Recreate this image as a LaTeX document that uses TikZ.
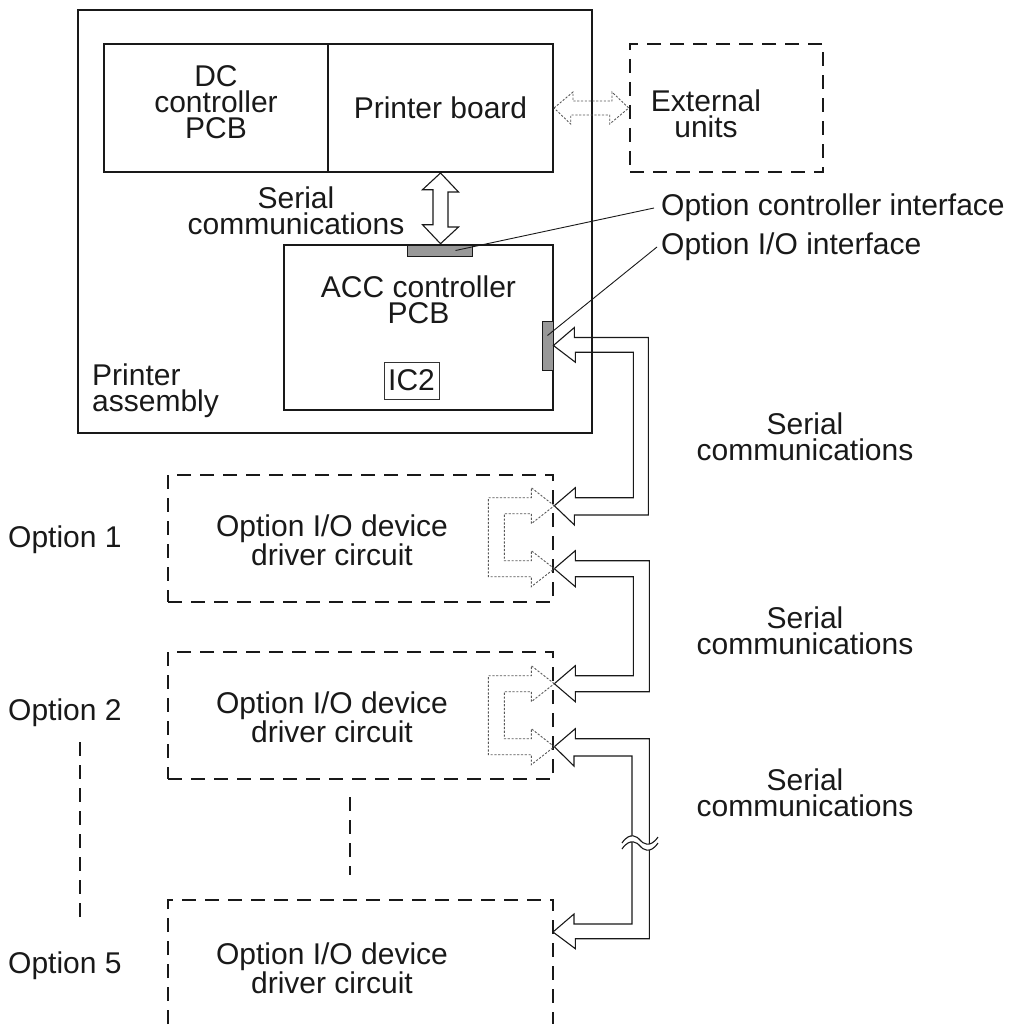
\documentclass[tikz,border=0pt]{standalone}
\usepackage{fontspec}
\setmainfont{Liberation Sans}
\usetikzlibrary{positioning,calc}

\begin{document}
\begin{tikzpicture}[x=1pt,y=-1pt,font=\fontsize{30}{26}\selectfont,color=black!90]
\tikzstyle{frame} = [rectangle, draw, line width=2.6pt, inner sep=0pt]
\tikzstyle{board} = [rectangle, draw, line width=2pt, inner sep=0pt, align=center]
\tikzstyle{optbox} = [rectangle, draw, line width=2.6pt, dash pattern=on 14pt off 9pt, inner sep=0pt]
\tikzstyle{port} = [rectangle, draw, line width=0.8pt, fill=black!40, inner sep=0pt]
\tikzstyle{txt} = [align=center, inner sep=0pt]
\tikzstyle{hollow} = [draw, line width=1.1pt, line join=miter]
\tikzstyle{ghost} = [draw=black!65, line width=0.9pt, dash pattern=on 2.2pt off 1.6pt]
\tikzstyle{leader} = [draw, line width=0.9pt]
\useasboundingbox (0,0) rectangle (1026,1027);

% printer assembly
\node (printer) [frame, minimum width=514pt, minimum height=423pt] at (335,221.5) {};
\node (dcpcb) [board, minimum width=224pt, minimum height=128pt] at (216,108) {};
\node (dctext) [txt] at (216,102) {DC\\controller\\PCB};
\node (board) [board, minimum width=225pt, minimum height=128pt] at (440.5,108) {Printer board};
\node (acc) [frame, minimum width=269pt, minimum height=165pt] at (418.5,327.5) {};
\node (acctext) [txt] at (418.5,300) {ACC controller\\PCB};
\node (ic2) [rectangle, draw=black!80, line width=0.8pt, minimum width=55pt, minimum height=37pt, inner sep=0pt] at (411.5,380.5) {IC2};
\node (serial) [txt] at (296,211) {Serial\\communications};
\node (assembly) [txt, align=left, anchor=west] at (92,391) {Printer\\assembly};

% external units
\node (ext) [optbox, minimum width=193pt, minimum height=128pt] at (726.5,108) {};
\node (exttext) [txt] at (706,114) {External\\units};

% interfaces
\node (ctrlport) [port, minimum width=65pt, minimum height=11pt] at (439.5,250.5) {};
\node (ioport) [port, minimum width=11pt, minimum height=49pt] at (547.5,345.5) {};
\node (ctrltext) [anchor=west, inner sep=0pt] at (661,208) {Option controller interface};
\node (iotext) [anchor=west, inner sep=0pt] at (661,247) {Option I/O interface};
\draw [leader] ($(ctrlport.center)+(16,0)$) -- ($(ctrltext.west)+(-7,0)$);
\draw [leader] ($(ioport.center)+(0,-10)$) -- ($(iotext.west)+(-4,0)$);

\draw [hollow] (board.south) -- ++(18,19) -- ++(-10.5,0) -- ++(0,35) -- ++(10.5,0) -- (board.south |- acc.north) -- ++(-18,-19) -- ++(10.5,0) -- ++(0,-35) -- ++(-10.5,0) -- cycle;
\draw [ghost] (board.east) -- ++(19,-16) -- ++(0,9) -- ++(39,0) -- ++(0,-9) -- (ext.west) -- ++(-19,16) -- ++(0,-9) -- ++(-39,0) -- ++(0,9) -- cycle;

% options
\node (opt1) [optbox, minimum width=385pt, minimum height=127pt] at (360.5,538.5) {};
\node (opt2) [optbox, minimum width=385pt, minimum height=127pt] at (360.5,715.5) {};
\coordinate (opt5nw) at (168,900);
\coordinate (opt5ne) at (553,900);
\draw [optbox] (168,1024) -- (opt5nw) -- (opt5ne) -- (553,1024);
\node (opt1text) [txt] at (332,540.5) {Option I/O device\\driver circuit};
\node (opt2text) [txt] at (332,717.5) {Option I/O device\\driver circuit};
\node (opt5text) [txt] at (332,968) {Option I/O device\\driver circuit};
\node (name1) [anchor=west, inner sep=0pt] at (8,540) {Option 1};
\node (name2) [anchor=west, inner sep=0pt] at (8,713) {Option 2};
\node (name5) [anchor=west, inner sep=0pt] at (8,966) {Option 5};
\draw [optbox] (80,742) -- (80,925);
\draw [optbox] (350,797) -- (350,875);

\coordinate (in1a) at ($(opt1.north east)+(0,32)$);
\coordinate (in1b) at ($(opt1.north east)+(0,95)$);
\coordinate (in2a) at ($(opt2.north east)+(0,33)$);
\coordinate (in2b) at ($(opt2.north east)+(0,96)$);
\coordinate (in5) at ($(opt5ne)+(0,32)$);

% serial links
\draw [hollow] (ioport.east) -- ++(21,-18) -- ++(0,10) -- ++(74,0) -- ++(0,177.5) -- ++(-74,0) -- ++(0,10) -- (in1a) -- ++(21,-18) -- ++(0,10) -- ++(58,0) -- ++(0,-145.5) -- ++(-58,0) -- ++(0,10) -- cycle;
\draw [hollow] (in1b) -- ++(21,-18) -- ++(0,10) -- ++(74,0) -- ++(0,131) -- ++(-74,0) -- ++(0,10) -- (in2a) -- ++(21,-18) -- ++(0,10) -- ++(58,0) -- ++(0,-99) -- ++(-58,0) -- ++(0,10) -- cycle;
\draw [hollow] (in2b) -- ++(21,-18) -- ++(0,10) -- ++(74,0) -- ++(0,200) -- ++(-74,0) -- ++(0,10) -- (in5) -- ++(21,-18) -- ++(0,10) -- ++(58,0) -- ++(0,-168) -- ++(-58,0) -- ++(0,10) -- cycle;
\fill [white] (622,843) .. controls (630,831) and (638,837) .. (640,840) .. controls (642,843) and (650,849) .. (658,837) -- (658,843) .. controls (650,855) and (642,849) .. (640,846) .. controls (638,843) and (630,837) .. (622,849) -- cycle;
\draw [hollow] (622,843) .. controls (630,831) and (638,837) .. (640,840) .. controls (642,843) and (650,849) .. (658,837);
\draw [hollow] (622,849) .. controls (630,837) and (638,843) .. (640,846) .. controls (642,849) and (650,855) .. (658,843);

\draw [ghost] (in1a) -- ++(-23,-18) -- ++(0,10) -- ++(-43,0) -- ++(0,79) -- ++(43,0) -- ++(0,10) -- (in1b) -- ++(-23,-18) -- ++(0,10) -- ++(-27,0) -- ++(0,-47) -- ++(27,0) -- ++(0,10) -- cycle;
\draw [ghost] (in2a) -- ++(-23,-18) -- ++(0,10) -- ++(-43,0) -- ++(0,79) -- ++(43,0) -- ++(0,10) -- (in2b) -- ++(-23,-18) -- ++(0,10) -- ++(-27,0) -- ++(0,-47) -- ++(27,0) -- ++(0,10) -- cycle;

\node (serial1) [txt] at (805,437) {Serial\\communications};
\node (serial2) [txt] at (805,631) {Serial\\communications};
\node (serial3) [txt] at (805,793) {Serial\\communications};
\end{tikzpicture}
\end{document}
